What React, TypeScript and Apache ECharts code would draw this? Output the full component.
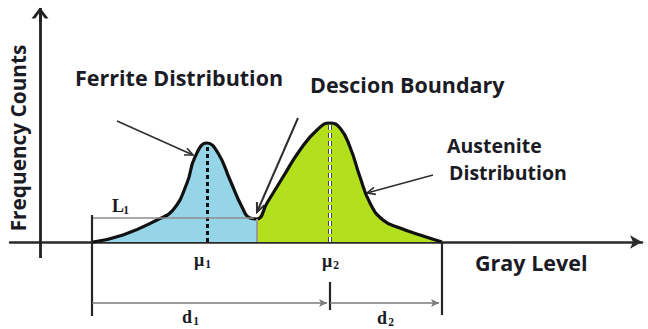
import React, { useEffect, useRef } from "react";
import * as echarts from "echarts";

// Gray level (x) and frequency count (y) samples
const grayLevels = [53, 83, 117, 133, 147, 155, 167, 178, 190, 202, 210, 217, 227, 243, 260, 277, 290, 300, 310, 320, 330, 343, 360, 380, 402];
const counts = [0, 7, 22, 32, 59, 85, 99, 89, 62, 35, 24, 23, 39, 65, 92, 112, 119, 114, 95, 65, 39, 22, 14, 7, 0];

// Key gray levels
const mu1 = 167;
const mu2 = 290;
const boundary = 217;
const lowerEnd = 52;
const upperEnd = 402;
const l1Level = 24;
const mu1Peak = 99;
const mu2Peak = 119;
const boundaryCount = 23;

// Annotation texts
const annotationTexts = ["Ferrite Distribution", "Descion Boundary", "Austenite", "Distribution", "Gray Level", "Frequency Counts"];

const TEXT = "#1b1b26";
const SANS = "'Open Sans', 'Noto Sans', sans-serif";
const SERIF = "'Liberation Serif', 'DejaVu Serif', serif";

function arrow(x1: number, y1: number, x2: number, y2: number, head = 9, spread = 0.42, width = 1.6) {
  const a = Math.atan2(y2 - y1, x2 - x1);
  const p1 = [x2 - head * Math.cos(a - spread), y2 - head * Math.sin(a - spread)];
  const p2 = [x2 - head * Math.cos(a + spread), y2 - head * Math.sin(a + spread)];
  return {
    type: "group",
    children: [
      { type: "line", shape: { x1, y1, x2, y2 }, style: { stroke: "#2e2e2e", lineWidth: width } },
      { type: "polyline", shape: { points: [p1, [x2, y2], p2] }, style: { stroke: "#2e2e2e", lineWidth: width, fill: null } },
    ],
  };
}

function sansText(text: string, x: number, y: number, size = 21.5, align = "left", rotation = 0) {
  return {
    type: "text",
    x,
    y,
    rotation,
    style: { text, fill: TEXT, fontFamily: SANS, fontWeight: "bold", fontSize: size, align, verticalAlign: "middle" },
  };
}

function subLabel(main: string, sub: string, x: number, y: number, size = 18) {
  return {
    type: "group",
    children: [
      { type: "text", x, y, style: { text: main, fill: TEXT, fontFamily: SERIF, fontWeight: "bold", fontSize: size, align: "left", verticalAlign: "middle" } },
      { type: "text", x: x + size * 0.62, y: y + 4, style: { text: sub, fill: TEXT, fontFamily: SERIF, fontWeight: "bold", fontSize: size * 0.64, align: "left", verticalAlign: "middle" } },
    ],
  };
}

const chevron = "path://M0,10 L6,0 L12,10 L9.4,10 L6,4.2 L2.6,10 Z";

export default function App() {
  const ref = useRef<HTMLDivElement>(null);
  useEffect(() => {
    if (!ref.current) return;
    const chart = echarts.init(ref.current, null, { renderer: "svg" });
    const all = grayLevels.map((g, i) => [g, counts[i]]);
    const blue = all.filter((p) => p[0] <= boundary);
    const green = all.filter((p) => p[0] >= boundary);
    const mk = (x1: number, y1: number, x2: number, y2: number, lineStyle: any, endSymbol = "none", endSize: any = 0) => [
      { coord: [x1, y1], symbol: "none", lineStyle },
      { coord: [x2, y2], symbol: endSymbol, symbolSize: endSize, lineStyle },
    ];
    const dark = { color: "#262626", width: 2.2, type: "solid" };
    const gray = { color: "#8c8c8c", width: 1.6, type: "solid" };
    const dimLine = { color: "#7a7a7a", width: 1.5, type: "solid" };
    const smooth = 0.5;
    chart.setOption({
      animation: false,
      grid: { left: 10, right: 6, top: 6, bottom: 9 },
      xAxis: {
        type: "value",
        min: -30,
        max: 602,
        axisLine: {
          show: true,
          onZero: true,
          lineStyle: { color: "#2a2a2a", width: 2.5 },
          symbol: ["none", "arrow"],
          symbolSize: [10, 12],
        },
        axisTick: { show: false },
        axisLabel: { show: false },
        splitLine: { show: false },
      },
      yAxis: {
        type: "value",
        min: -78,
        max: 236,
        axisLine: { show: false },
        axisTick: { show: false },
        axisLabel: { show: false },
        splitLine: { show: false },
      },
      series: [
        {
          type: "line",
          data: blue,
          smooth,
          symbol: "none",
          silent: true,
          lineStyle: { opacity: 0, width: 0 },
          areaStyle: { color: "#96d5e8", opacity: 1 },
          z: 1,
        },
        {
          type: "line",
          data: green,
          smooth,
          symbol: "none",
          silent: true,
          lineStyle: { opacity: 0, width: 0 },
          areaStyle: { color: "#b2e01c", opacity: 1 },
          z: 1,
        },
        {
          type: "line",
          data: [],
          silent: true,
          z: 2,
          markLine: {
            silent: true,
            animation: false,
            symbol: "none",
            label: { show: false },
            data: [
              mk(0, -16, 0, 234, { color: "#222", width: 2.8, type: "solid" }),
              mk(0, 220, 0, 229, { color: "#222", width: 2.8, type: "solid" }, chevron, [17, 11]),
              mk(mu1, 0, mu1, mu1Peak, { color: "#111", width: 3, type: [4, 3] }),
              mk(mu2, 0, mu2, mu2Peak, { color: "#4a4a4a", width: 4, type: [5, 3] }),
              mk(mu2, 0, mu2, mu2Peak, { color: "#ffffff", width: 2, type: [5, 3] }),
              mk(boundary, 0, boundary, boundaryCount, { color: "#999", width: 2, type: "solid" }),
              mk(lowerEnd, l1Level, boundary - 3, l1Level, gray),
              mk(lowerEnd, 27, lowerEnd, -74, dark),
              mk(upperEnd, 0, upperEnd, -73, dark),
              mk(mu2, -40, mu2, -68, dark),
              mk(lowerEnd, -61, mu2 - 3, -61, dimLine, "arrow", [6, 8]),
              mk(mu2, -61, upperEnd - 3, -61, dimLine, "arrow", [6, 8]),
            ],
          },
        },
        {
          type: "line",
          data: all,
          smooth,
          symbol: "none",
          silent: true,
          lineStyle: { color: "#111", width: 3.2 },
          z: 3,
        },
      ],
      graphic: [
        sansText(annotationTexts[0], 75, 77),
        sansText(annotationTexts[1], 310, 84),
        sansText(annotationTexts[2], 447, 145, 19.5),
        sansText(annotationTexts[3], 449, 172, 19.5),
        sansText(annotationTexts[4], 475, 262),
        sansText(annotationTexts[5], 18, 138, 20.8, "center", Math.PI / 2),
        arrow(117, 121, 193, 155),
        arrow(298, 118, 257, 212, 10, 0.42, 2),
        arrow(433, 175, 367, 193),
        subLabel("μ", "1", 194, 260),
        subLabel("μ", "2", 322, 261),
        subLabel("L", "1", 112, 206),
        subLabel("d", "1", 182, 317),
        subLabel("d", "2", 377, 318),
      ],
    });
    return () => chart.dispose();
  }, []);
  return <div ref={ref} style={{ position: "absolute", left: 0, top: 0, width: 648, height: 329, background: "#fff" }} />;
}
